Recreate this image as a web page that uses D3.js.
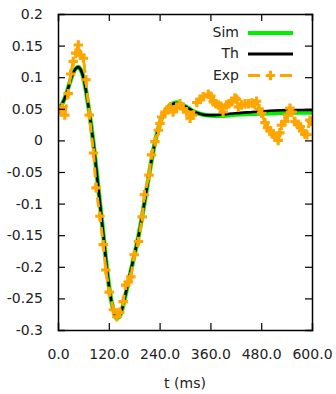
<!DOCTYPE html>
<html>
<head>
<meta charset="utf-8">
<script src="https://cdn.jsdelivr.net/npm/d3@7"></script>
<style>
  html, body { margin: 0; padding: 0; background: #fff; }
  svg { display: block; }
  text { font-family: "DejaVu Sans", sans-serif; fill: #222; }
</style>
</head>
<body>
<div id="chart"></div>
<script>
// ---- data ----
const xTicks = [0, 120, 240, 360, 480, 600];
const yTicks = [0.2, 0.15, 0.1, 0.05, 0, -0.05, -0.1, -0.15, -0.2, -0.25, -0.3];

const thT = [0,10,20,30,40,47,55,62,70,78,85,92,100,108,115,122,130,138,145,152,160,170,180,190,200,210,220,230,240,250,260,270,280,290,300,310,320,335,350,370,390,420,460,500,550,600];
const thV = [0.049,0.058,0.074,0.096,0.112,0.116,0.11,0.094,0.062,0.025,-0.012,-0.055,-0.105,-0.155,-0.2,-0.238,-0.266,-0.28,-0.278,-0.265,-0.242,-0.212,-0.182,-0.152,-0.115,-0.075,-0.035,0.0,0.025,0.042,0.052,0.057,0.059,0.058,0.054,0.05,0.046,0.042,0.04,0.04,0.041,0.043,0.045,0.047,0.048,0.048];

const simT = thT;
const simV = [0.049,0.058,0.074,0.096,0.112,0.116,0.11,0.094,0.062,0.025,-0.012,-0.055,-0.105,-0.155,-0.2,-0.238,-0.266,-0.281,-0.279,-0.266,-0.243,-0.213,-0.183,-0.152,-0.115,-0.075,-0.035,0.0,0.026,0.043,0.053,0.058,0.06,0.058,0.054,0.05,0.046,0.042,0.04,0.039,0.039,0.041,0.042,0.043,0.044,0.044];

const expT = [0,5,10,16,24,30,36,42,48,54,60,66,74,84,90,99,107,113,121,131,139,146,154,160,166,172,180,190,199,204,215,221,229,237,241,245,253,260,265,272,280,288,296,304,312,318,328,336,343,355,361,367,373,379,385,390,398,404,410,418,422,426,434,442,450,458,464,469,475,481,489,495,501,508,513,520,524,528,536,542,548,553,560,566,572,578,583,588,595,599];
const expV = [0.045,0.048,0.052,0.04,0.074,0.105,0.125,0.138,0.151,0.135,0.13,0.096,0.04,-0.02,-0.075,-0.12,-0.165,-0.205,-0.24,-0.268,-0.279,-0.272,-0.255,-0.229,-0.224,-0.216,-0.181,-0.16,-0.121,-0.086,-0.055,-0.023,-0.002,0.016,0.027,0.037,0.045,0.048,0.053,0.045,0.052,0.058,0.05,0.045,0.035,0.04,0.06,0.065,0.069,0.073,0.07,0.061,0.058,0.056,0.054,0.045,0.056,0.058,0.061,0.067,0.065,0.053,0.056,0.058,0.058,0.059,0.058,0.062,0.05,0.043,0.028,0.02,0.015,0.01,0.006,0.0,0.012,0.024,0.03,0.04,0.051,0.045,0.03,0.025,0.022,0.015,0.01,0.009,0.032,0.03];

const legendLabels = ["Sim", "Th", "Exp"];

// ---- layout ----
const W = 336, H = 394;
const mL = 58, mR = 312, mT = 14, mB = 330;

const svg = d3.select("#chart").append("svg").attr("width", W).attr("height", H);

const x = d3.scaleLinear().domain([0, 600]).range([mL, mR]);
const y = d3.scaleLinear().domain([-0.3, 0.2]).range([mB, mT]);

svg.append("clipPath").attr("id", "clip").append("rect")
  .attr("x", mL).attr("y", mT).attr("width", mR - mL).attr("height", mB - mT);

const line = d3.line().x(d => x(d[0])).y(d => y(d[1])).curve(d3.curveMonotoneX);
const simData = simT.map((t, i) => [t, simV[i]]);
const thData = thT.map((t, i) => [t, thV[i]]);
const expData = expT.map((t, i) => [t, expV[i]]);

const plot = svg.append("g").attr("clip-path", "url(#clip)");
plot.append("path").datum(simData).attr("d", line)
  .attr("fill", "none").attr("stroke", "#00ee00").attr("stroke-width", 4.5);
plot.append("path").datum(thData).attr("d", line)
  .attr("fill", "none").attr("stroke", "#000").attr("stroke-width", 2.6);
plot.append("path").datum(expData).attr("d", d3.line().x(d => x(d[0])).y(d => y(d[1])))
  .attr("fill", "none").attr("stroke", "#ffa500").attr("stroke-width", 3)
  .attr("stroke-dasharray", "10,5");
const cross = d3.symbol().type(d3.symbolCross).size(50);
plot.selectAll("path.m").data(expData).enter().append("path").attr("class", "m")
  .attr("d", cross).attr("transform", d => `translate(${x(d[0])},${y(d[1])})`)
  .attr("fill", "#ffa500");

// ---- axes ----
const tl = 7;
const axB = svg.append("g").attr("transform", `translate(0,${mB})`)
  .call(d3.axisBottom(x).tickValues(xTicks).tickSize(-tl).tickPadding(tl + 12).tickFormat(d3.format(".1f")));
const axT = svg.append("g").attr("transform", `translate(0,${mT})`)
  .call(d3.axisTop(x).tickValues(xTicks).tickSize(-tl).tickFormat(""));
const axL = svg.append("g").attr("transform", `translate(${mL},0)`)
  .call(d3.axisLeft(y).tickValues(yTicks).tickSize(-tl).tickPadding(tl + 8).tickFormat(d => String(+d.toFixed(2))));
const axR = svg.append("g").attr("transform", `translate(${mR},0)`)
  .call(d3.axisRight(y).tickValues(yTicks).tickSize(-tl).tickFormat(""));
[axB, axT, axL, axR].forEach(a => {
  a.select(".domain").attr("stroke", "#000").attr("stroke-width", 1.5);
  a.selectAll(".tick line").attr("stroke", "#000").attr("stroke-width", 1.2);
  a.selectAll("text").attr("font-size", 14).attr("font-family", "DejaVu Sans, sans-serif").attr("fill", "#222");
});
axB.selectAll(".tick").filter(d => d === 0 || d === 600).select("line").remove();
axT.selectAll(".tick").filter(d => d === 0 || d === 600).select("line").remove();
axL.selectAll(".tick").filter(d => d === 0.2 || d === -0.3).select("line").remove();
axR.selectAll(".tick").filter(d => d === 0.2 || d === -0.3).select("line").remove();

svg.append("text").attr("x", (mL + mR) / 2).attr("y", 384)
  .attr("text-anchor", "middle").attr("dominant-baseline", "middle")
  .attr("font-size", 14).text("t (ms)");

// ---- legend ----
const legY = [33, 54, 75.5];
const lx0 = 248, lx1 = 293;
const leg = svg.append("g");
legendLabels.forEach((lab, i) => {
  leg.append("text").attr("x", 239).attr("y", legY[i]).attr("text-anchor", "end")
    .attr("dominant-baseline", "middle").attr("font-size", 14).text(lab);
});
leg.append("line").attr("x1", lx0).attr("x2", lx1).attr("y1", legY[0]).attr("y2", legY[0])
  .attr("stroke", "#00ee00").attr("stroke-width", 4);
leg.append("line").attr("x1", lx0).attr("x2", lx1).attr("y1", legY[1]).attr("y2", legY[1])
  .attr("stroke", "#000").attr("stroke-width", 3);
leg.append("line").attr("x1", lx0).attr("x2", lx1).attr("y1", legY[2]).attr("y2", legY[2])
  .attr("stroke", "#ffa500").attr("stroke-width", 3).attr("stroke-dasharray", "12,8,4,8");
leg.append("path").attr("d", cross).attr("transform", `translate(${(lx0 + lx1) / 2},${legY[2]})`)
  .attr("fill", "#ffa500");
</script>
</body>
</html>
